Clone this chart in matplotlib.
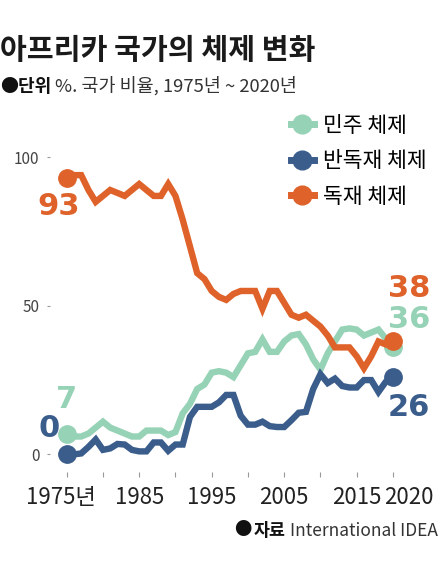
import numpy as np
import matplotlib.pyplot as plt
from matplotlib.lines import Line2D

plt.rcParams['font.family'] = ['Noto Sans CJK KR', 'DejaVu Sans']

years = list(range(1975, 2021))

# 독재 체제
autocracy = [93, 94, 94, 89, 85, 87, 89, 88, 87, 89,
             91, 89, 87, 87, 91, 87, 79, 70, 61, 59,
             55, 53, 52, 54, 55, 55, 55, 49, 55, 55,
             51, 47, 46, 47, 45, 43, 40, 36, 36, 36,
             33, 29, 33, 38, 37, 38]
# 민주 체제
democracy = [7, 6, 6, 7, 9, 11, 9, 8, 7, 6,
             6, 8, 8, 8, 6.5, 7.5, 13.8, 17, 22, 23.5,
             27.5, 28, 27.5, 26, 30, 34, 34.5, 38.7, 34.5, 34.5,
             38, 40, 40.5, 37, 32, 28.5, 34, 38, 42, 42.4,
             42, 40, 41, 42, 39, 36]
# 반독재 체제
hybrid = [0, 0, 0.3, 2.5, 5, 1.5, 2, 3.5, 3.3, 1.5,
          1, 1, 4, 4, 1.2, 3.3, 3.3, 12.6, 16, 16,
          16, 17.5, 20, 20, 13, 10, 10, 11, 9.5, 9.2,
          9.2, 11.5, 14, 14.3, 22, 27, 24, 25.5, 23, 22.5,
          22.5, 25, 25, 21, 24.4, 26]

tick_years = [1975, 1980, 1985, 1990, 1995, 2000, 2005, 2010, 2015, 2020]
label_years = [1975, 1985, 1995, 2005, 2015, 2020]
label_text = ['1975년', '1985', '1995', '2005', '2015', '2020']
label_shift = [-0.8, 0, 0, 0, 0, 2.2]

c_green = '#96d2b5'
c_blue = '#3b5d8c'
c_orange = '#de6229'

fig = plt.figure(figsize=(4.41, 5.62), dpi=100)
W, H = 441, 562
ax = fig.add_axes([52.2 / W, (H - 469.2) / H, 355.25 / W, (469.2 - 142.45) / H])
ax.set_xlim(1973, 2022)
ax.set_ylim(-5, 105)

lw = 4.6
ax.plot(years, democracy, color=c_green, lw=lw, solid_joinstyle='miter', zorder=2)
ax.plot(years, hybrid, color=c_blue, lw=lw, solid_joinstyle='miter', zorder=3)
ax.plot(years, autocracy, color=c_orange, lw=lw, solid_joinstyle='miter', zorder=4)

ms = 12.5
for s, c, z in [(democracy, c_green, 2), (hybrid, c_blue, 3), (autocracy, c_orange, 4)]:
    ax.plot([years[0], years[-1]], [s[0], s[-1]], 'o', color=c, ms=ms, zorder=z + 0.5)

for sp in ax.spines.values():
    sp.set_visible(False)
ax.spines['bottom'].set_position(('outward', 1.8))
ax.spines['left'].set_position(('outward', 1.5))

ax.set_xticks(tick_years)
ax.set_xticklabels([])
ax.tick_params(axis='x', length=3.6, width=0.8, color='#999999')
ax.set_yticks([0, 50, 100])
ax.tick_params(axis='y', length=2.2, width=0.8, color='#999999', pad=5.5,
               labelsize=11, labelcolor='#444444')

for yr, txt, dx in zip(label_years, label_text, label_shift):
    ax.text(yr + dx, -0.087, txt, transform=ax.get_xaxis_transform(),
            ha='center', va='center', fontsize=16, color='#222222')

# 값 라벨
big = dict(fontsize=22, fontweight='bold', family=['DejaVu Sans'], ha='center', va='center')
ax.text(1973.9, 83.5, '93', color=c_orange, **big)
ax.text(1975.0, 18.3, '7', color=c_green, **big)
ax.text(1972.6, 8.8, '0', color=c_blue, **big)
ax.text(2022.3, 55.7, '38', color=c_orange, **big)
ax.text(2022.3, 45.3, '36', color=c_green, **big)
ax.text(2022.2, 15.7, '26', color=c_blue, **big)

# 범례
handles = [Line2D([], [], color=c, lw=5, marker='o', ms=13.5)
           for c in [c_green, c_blue, c_orange]]
fig.legend(handles, ['민주 체제', '반독재 체제', '독재 체제'],
           loc='upper left', bbox_to_anchor=(291 / W, 1 - 115 / H),
           frameon=False, fontsize=15.5, handlelength=1.05, handletextpad=0.45,
           labelspacing=0.62, borderaxespad=0, borderpad=0)

fig.text(0, 1 - 50 / H, '아프리카 국가의 체제 변화', fontsize=21, fontweight=900,
         color='#1a1a1a', va='center', ha='left')
fig.text(0, 1 - 86 / H, '●단위', fontsize=13, fontweight='bold', color='#111111',
         va='center', ha='left')
fig.text(55 / W, 1 - 86 / H, '%. 국가 비율, 1975년 ~ 2020년', fontsize=13.3,
         color='#333333', va='center', ha='left')
fig.text(438 / W, 1 - 531 / H, 'International IDEA', fontsize=12.5, color='#333333',
         va='center', ha='right')
fig.text(286 / W, 1 - 531 / H, '자료', fontsize=12.5, fontweight='bold', color='#111111',
         va='center', ha='right')
fig.text(251 / W, 1 - 530 / H, '●', fontsize=12.5, color='#111111', va='center', ha='right')

fig.savefig('out.png', dpi=100)
